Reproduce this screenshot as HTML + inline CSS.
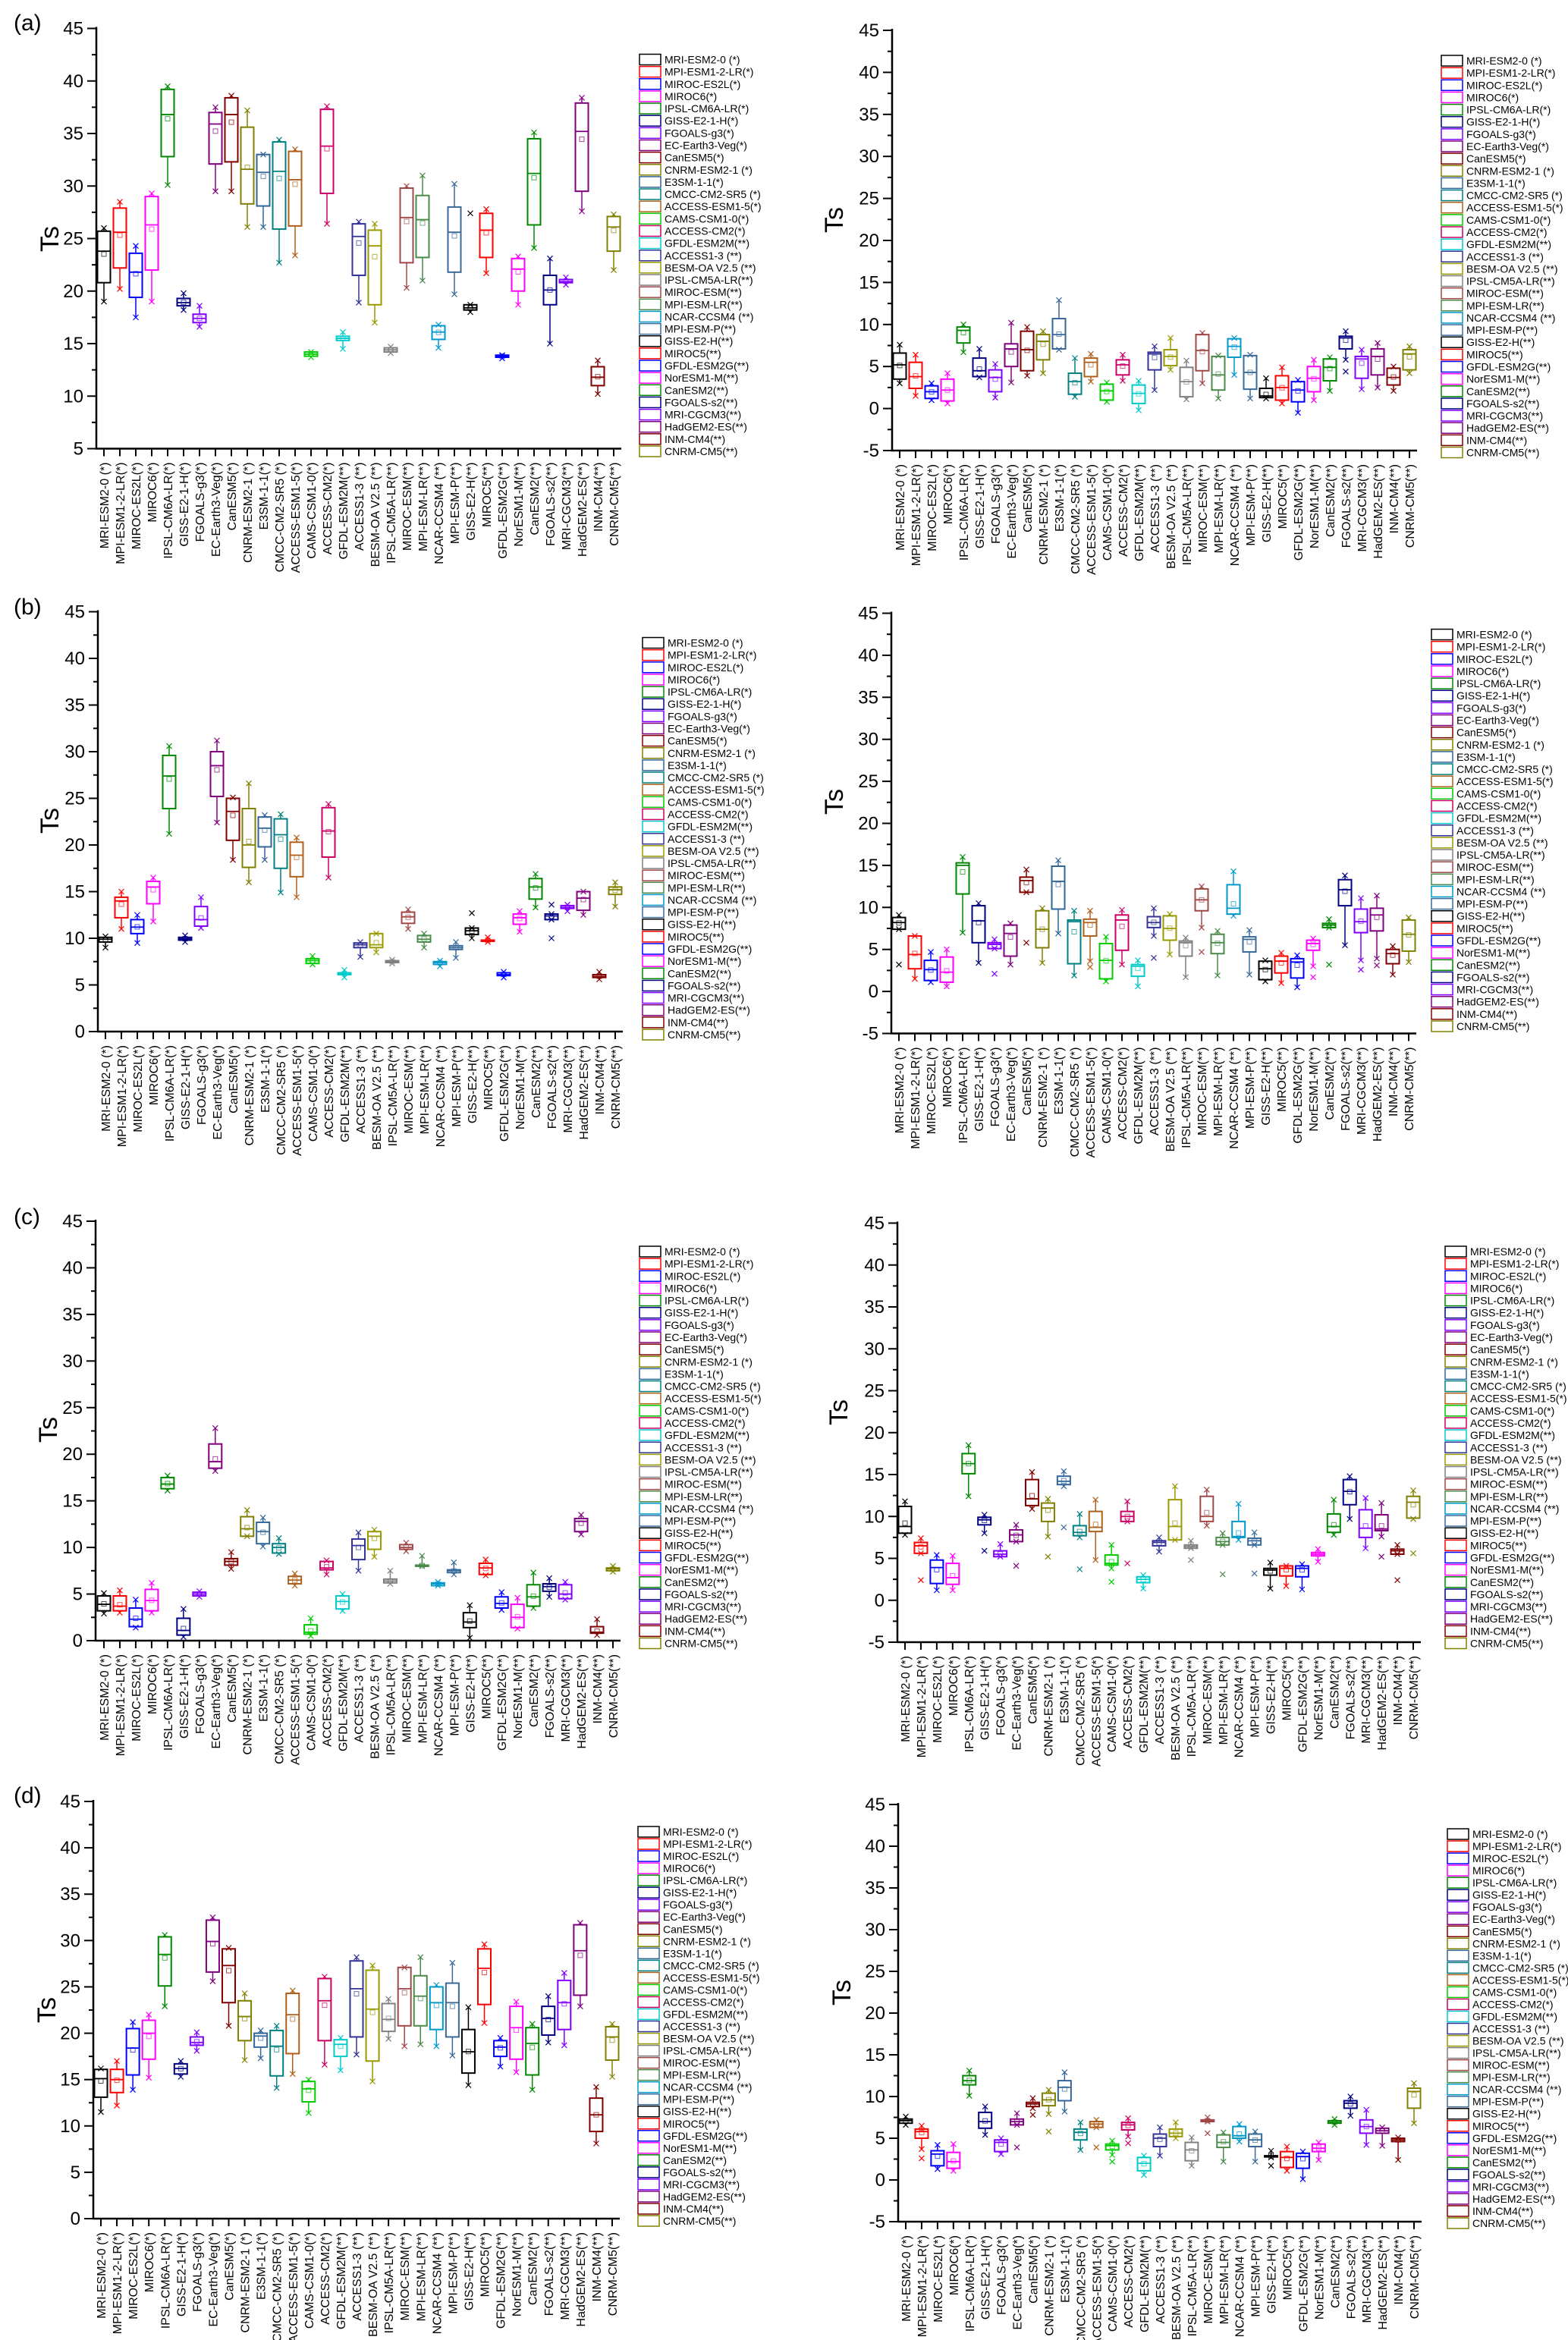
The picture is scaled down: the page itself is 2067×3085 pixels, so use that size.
<!DOCTYPE html>
<html><head><meta charset="utf-8">
<style>body{margin:0;background:#fff}svg{display:block}text{font-family:"Liberation Sans",Arial,sans-serif}</style>
</head><body>
<svg id="s" xmlns="http://www.w3.org/2000/svg" width="2067" height="3085" viewBox="0 0 2067 3085"></svg>
<script>
const names=["MRI-ESM2-0 (*)","MPI-ESM1-2-LR(*)","MIROC-ES2L(*)","MIROC6(*)","IPSL-CM6A-LR(*)","GISS-E2-1-H(*)","FGOALS-g3(*)","EC-Earth3-Veg(*)","CanESM5(*)","CNRM-ESM2-1 (*)","E3SM-1-1(*)","CMCC-CM2-SR5 (*)","ACCESS-ESM1-5(*)","CAMS-CSM1-0(*)","ACCESS-CM2(*)","GFDL-ESM2M(**)","ACCESS1-3 (**)","BESM-OA V2.5 (**)","IPSL-CM5A-LR(**)","MIROC-ESM(**)","MPI-ESM-LR(**)","NCAR-CCSM4 (**)","MPI-ESM-P(**)","GISS-E2-H(**)","MIROC5(**)","GFDL-ESM2G(**)","NorESM1-M(**)","CanESM2(**)","FGOALS-s2(**)","MRI-CGCM3(**)","HadGEM2-ES(**)","INM-CM4(**)","CNRM-CM5(**)"];
const cols=["#000","#f00","#00f","#f0f","#080","#000080","#8000ff","#800080","#800000","#808000","#336699","#008080","#b0601a","#00cc00","#cc0066","#00cccc","#333399","#999900","#808080","#a04848","#4a8a4a","#0099cc","#3a6a9a","#000","#f00","#00f","#f0f","#080","#000080","#8000ff","#800080","#800000","#808000"];
const D={
AL:`20.8 23.8 25.7 19 26;22.2 25.6 27.9 20.2 28.5;19.4 21.8 23.6 17.5 24.3;22 26.3 29 19 29.3;32.8 36.8 39.2 30.1 39.5;18.6 18.9 19.3 18.2 19.8;17 17.4 17.8 16.6 18.6;32.1 35.9 37 29.5 37.5;32.3 36.8 38.4 29.5 38.6;28.3 31.6 35.6 26.1 37.2;28.1 31.3 33 26.1 33;25.9 31.4 34.2 22.7 34.4;26.2 30.6 33.3 23.4 33.5;13.8 14 14.2 13.7 14.2;29.3 33.8 37.3 26.4 37.6;15.3 15.5 15.7 14.5 16.1;21.5 25.2 26.4 18.9 26.6;18.7 24.3 25.8 17 26.4;14.2 14.4 14.6 14.1 14.7;22.7 27 29.8 20.3 30;23.2 26.8 29.1 21 31;15.4 16.1 16.7 14.6 16.8;21.8 25.6 28 19.7 30.2;18.2 18.4 18.7 18 18.7 27.4;23.2 25.8 27.4 21.7 27.8;13.7 13.8 13.9 13.6 13.9;20 22.1 23.1 18.7 23.3;26.3 31.2 34.5 24.1 35.1;18.7 20.1 21.5 15 23.1;20.8 20.9 21.1 20.6 21.3;29.5 35.2 37.9 27.6 38.4;11 11.8 12.8 10.2 13.4;23.8 26.1 27.1 22 27.3`,
AR:`3.5 5.2 6.6 3 7.6;2.4 3.8 5.5 1.5 6.4;1.2 2 2.7 1 3;0.9 2.2 3.5 0.6 4.2;7.8 9.3 9.7 6.7 10;3.8 4.5 6 3.7 7.1;2 3.7 4.6 1.3 5.3;5 7.1 7.7 3.1 10.2;4.5 7 9.2 3.9 9.7;5.8 8 8.8 4.2 9.2;7.1 8.8 10.7 7 12.9;1.7 3.2 4.2 1.4 6;3.8 5.5 6 3.2 6.5;1 2.1 2.9 0.8 3.1;4 5.2 5.8 3.3 6.4;0.6 1.8 2.8 -0.2 3.3;4.6 6.5 6.7 2.2 7.4;5.1 6.2 7 4.6 8.4;1.4 3.2 4.9 1.1 5.7;4.5 6.9 8.8 3 9;2.2 4 6.2 1.2 6.3;6.1 7.4 8.3 4 8.4;2.3 4.3 6.3 1.2 6.4;1.3 1.5 2.4 1.2 3.6;1 2.5 3.9 0.6 4.9;0.8 2.2 3.2 -0.5 3.4;2 3.6 5 1 5.8;3.3 4.9 5.9 2.1 6.1;7.1 8.4 8.6 5.8 9.2 4.4;3.6 5.9 6.2 2.3 7;4 6.2 7.1 2.5 7.8;2.8 3.7 4.8 2.1 5;4.6 6.5 7 4.2 7.4`,
BL:`9.6 9.9 10.1 9 10.2;12.2 14 14.4 11 15;10.5 11.2 12 9.5 12.5;13.7 15.5 16.1 11.8 16.5;23.9 27.4 29.6 21.2 30.6;9.8 9.95 10.1 9.6 10.3;11.3 12 13.4 11.1 14.4;25.2 28.5 30 22.4 31.2;20.5 23.6 25 18.4 25.1;17.6 20 23.9 16 26.6;19.8 21.8 23 18.4 23.2;17.5 21.1 22.8 14.9 23.3;16.6 18.9 20.3 14.4 20.8;7.3 7.6 7.8 7.2 8.1;18.7 21.5 24 16.5 24.4;6.1 6.2 6.3 5.8 6.6;9 9.3 9.5 8 9.6;9 9.3 10.5 8.5 10.5;7.4 7.5 7.6 7.3 7.7;11.6 12.3 12.8 11 13.1;9.6 9.9 10.3 9 10.5;7.2 7.4 7.5 7 7.6;8.8 9 9.2 7.9 9.6;10.4 10.8 11.1 10 11.1 12.7;9.8 9.8 9.8 9.6 10.1;6 6.1 6.3 5.8 6.4;11.5 12.2 12.6 10.7 12.9;14.2 15.5 16.4 13.3 16.9;12 12.4 12.6 12 12.6 13.6 10;13.2 13.3 13.5 12.9 13.6;13 14.3 15 12.5 15;5.8 5.9 6.1 5.6 6.4;14.7 15.2 15.5 13.4 16`,
BR:`7.4 8.2 8.8 7.4 9.1 3.2;2.7 4.4 6.6 1.5 6.6;1.3 2.6 3.7 1.1 4.7;1.1 2.3 4.1 0.6 5;11.6 15 15.3 7 16;5.8 8.4 10.2 3.4 10.5;5.1 5.6 5.8 5.1 6.2 2.1;4.2 6.9 7.9 3.2 8.1;11.8 13.2 13.6 11.8 14.5 5.8;5.2 7.4 9.6 3.4 9.9;9.8 13.1 14.9 6.9 15.6;3.3 8.3 8.5 1.9 9.6;6.6 8.2 8.6 3.6 9.6 2.9;1.5 3.7 5.7 1.2 6.5;4.9 8.5 9.1 3.2 9.7;1.8 3 3.2 0.6 3.7;7.6 8.2 8.9 6.6 9.9 4;6.1 7.5 9 4.4 9.2;4.2 5.8 6 1.7 6.4;9.6 10.9 12.2 7.6 12.5 4.7;4.5 5.8 6.8 1.9 7.2;9.2 9.9 12.7 9 14.3;4.7 6.2 6.5 2 7.3;1.4 2.7 3.6 1.2 3.7;2.2 3.6 4.2 1 4.6;1.6 3.5 3.9 0.5 4.3;4.9 5.7 6.1 3 6.3 1.7;7.6 7.9 8.1 7.6 8.6 3.2;10.2 12.1 13.3 5.5 13.8;7 8.3 9.8 3.7 11.1 2.6;7.2 9.1 9.9 3.9 11.4 3.1;3.3 4.5 5 2 5.4;4.8 6.8 8.5 3.5 8.8`,
CL:`3.2 3.9 4.8 2.9 5.1;3.2 3.7 4.8 3 5.4;1.5 2.3 3.5 1.4 4.4;3.2 4.3 5.5 3 6.2;16.3 16.8 17.5 16.1 17.7;0.6 1.1 2.4 0.4 3.4;4.8 5 5.2 4.7 5.3;18.5 19.2 21.1 18.2 22.8;8.1 8.5 8.8 7.7 9.5;11.2 12 13.3 11.2 14;10.4 11.7 12.7 10.1 13.2;9.4 10 10.4 9.3 11;6.1 6.5 6.9 5.9 7.2;0.7 0.9 1.7 0.5 2.4;7.6 7.8 8.5 7.1 8.6;3.4 4.2 4.8 3.2 5;8.7 10.2 10.9 7.5 11.6;9.8 11.2 11.7 9 11.9;6.2 6.4 6.6 6.1 7.5;9.8 10 10.3 9.6 10.5;8 8.05 8.1 8 9.1;5.9 6.1 6.2 5.9 6.3;7.3 7.5 7.6 7.1 8.4;1.4 2 3 0.3 3.8;7.1 7.8 8.3 7 8.7;3.5 4 4.7 3.3 5.2;1.4 2.5 3.9 1.3 4.6;3.7 4.7 6 3.5 7.3;5.3 5.8 6.1 4.7 6.7;4.5 5 6 4.4 6.3;11.7 12.8 13.1 11.4 13.5;0.8 0.9 1.5 0.6 2.3;7.5 7.7 7.8 7.4 8`,
CR:`8 8.8 11.2 7.8 11.8;5.6 6.5 6.9 5.6 7.4 2.4;2 3.9 4.8 1.2 5.4;1.9 2.7 4.4 1.2 5.3;15.1 16.3 17.5 12.4 18.5;9 9.6 9.9 8 10.2 5.9;5.2 5.5 5.9 5.2 6.7;7 7.8 8.4 7 9 4.1;11.3 12.1 14.4 10.9 15.3;9.4 11 11.6 7.6 12.1 5.2;13.8 14.2 14.8 13.6 15.4 8.7;7.7 8.1 8.9 7.5 10.3 3.7;8.2 8.7 10.6 4.8 12;4.2 4.4 5.4 3.8 6.6 2.2;9.4 10 10.6 9.4 11.8 4.4;2.1 2.5 2.8 1.4 3;6.5 6.9 7.1 5.8 7.5;7.2 8.8 12 7.2 13.6;6.2 6.4 6.6 6.2 7.1 4.8;9.4 10 12.4 8.9 13.2;6.6 7 7.5 6.6 8 3.1;7.5 7.6 9.4 7.2 11.5;6.6 7.1 7.4 6.6 8.1 3.2;3 3.6 3.8 1.4 4.5;2.9 3.8 4.1 1.7 4.1;2.8 3.8 4.1 1.3 4.3;5.3 5.5 5.7 4.6 6.1;8.1 8.8 10.3 7.8 12;11.4 13 14.4 9.7 14.8;7.5 8.6 10.8 6.2 12.2;8.3 8.5 10.2 7.6 11.6 5.2;5.5 5.9 6.1 5.5 6.6 2.4;9.8 11.7 12.4 9.7 13.1 5.6`,
DL:`13.1 15.1 16.1 11.5 16.2;13.6 15 16.1 12.2 17;15.5 18.4 20.5 13.9 21.2;17.2 20 21.4 15.2 22;25.1 28.5 30.4 22.9 30.6;15.6 16.2 16.7 15.3 17;18.7 19 19.6 18.1 20.1;26.6 29.9 32.2 25.6 32.5;23.3 27.3 29.1 20.8 29.2;19.2 21.8 23.5 17.1 24.3;18.5 19.7 20 17.3 20.3;15.4 18.6 20.3 14.1 20.8;17.8 22 24.3 15.6 24.6;12.6 14 14.8 11.4 15;19.2 23.5 25.9 16.6 26.1;17.5 18.8 19.3 16 19.5;19.6 24.8 27.8 17.7 28.2;17 22.6 26.8 14.8 27.3;20.2 21.5 23.2 19.4 23.7;20.8 24.8 27.1 18.6 27.1;20.8 24 26.2 18.8 28.2;20.4 23.3 25 18.6 25.2;19.6 23.3 25.4 17.6 27.6;15.7 18 20.4 14.4 22.8;23.1 27 29.1 21.1 29.6;17.5 18.5 19.2 16.4 19.5;17.2 20.6 22.9 15.8 23.4;15.5 18.9 20.6 13.9 21;19.8 21.6 22.9 19 24;20.4 23.3 25.7 18.7 26.5;24.1 28.9 31.7 22.9 31.9;9.4 11.2 13 8.1 14.2;17.1 19.6 20.7 15.3 21`,
DR:`6.8 7.1 7.3 6.6 7.6;5 5.8 6.1 3.7 6.5 2.6;1.7 3.1 3.5 1.3 4.2;1.4 2.2 3.3 1.1 4.3;11.4 11.9 12.5 10.1 13.1;6.2 7 8.1 5.4 8.8;3.4 4.5 4.8 3.1 5;6.6 7 7.3 6.6 8 3.9;8.8 9.1 9.3 8.6 9.8 7.8;8.9 9.6 10.4 7.9 10.8 5.8;9.5 11.1 11.9 8.2 12.9;4.8 5.7 6.1 3.6 6.9;6.3 6.7 7 6.3 7.2 3.9;3.6 4.1 4.3 3 4.7 2.2;6 6.6 6.9 5.2 7.4 4.4;1.1 2 2.7 0.6 2.9;4 5 5.5 2.9 6.3;5.2 5.6 6.1 5 6.9;2.3 3.6 4.5 1.7 5.1;7 7.1 7.2 7 7.5 5.6;3.9 4.5 5.4 2.2 5.7;5 5.3 6.4 4.6 6.7;4 4.8 5.5 2.2 5.8;2.8 2.85 2.9 2.7 3.5 1.7;1.5 2.7 3.4 1.1 4;1.4 2.8 3.2 0.1 3.4;3.4 3.8 4.3 2.4 4.5;6.8 6.9 7.1 6.6 7.3;8.6 9.2 9.5 7.7 10;5.6 6.4 7.2 4.2 8.4;5.6 5.9 6.2 4.1 6.3;4.6 4.8 5 2.4 5.1;8.6 10.6 11 6.8 11.6`};
const P=[
{k:"AL",ax:127,yt:37.5,yb:591.5,vmin:5,vmax:45,b0:137,b1:809,ae:819,lx:843,l0:78.5,l1:595,tsx:66,tsy:315,lab:"(a)",laby:40},
{k:"AR",ax:1176,yt:40,yb:594,vmin:-5,vmax:45,b0:1186,b1:1858,ae:1868,lx:1900,l0:80,l1:596.5,tsx:1100,tsy:290},
{k:"BL",ax:129,yt:806.5,yb:1360,vmin:0,vmax:45,b0:139,b1:811,ae:821,lx:847,l0:847.5,l1:1364,tsx:66,tsy:1082,lab:"(b)",laby:810},
{k:"BR",ax:1175,yt:808.5,yb:1362.5,vmin:-5,vmax:45,b0:1185,b1:1857,ae:1867,lx:1887,l0:836.5,l1:1353,tsx:1100,tsy:1057},
{k:"CL",ax:126,yt:1610,yb:2163,vmin:0,vmax:45,b0:137,b1:808,ae:818,lx:843,l0:1650,l1:2166.5,tsx:64,tsy:1885,lab:"(c)",laby:1614},
{k:"CR",ax:1183,yt:1612.5,yb:2165,vmin:-5,vmax:45,b0:1193,b1:1863,ae:1873,lx:1905,l0:1650,l1:2166.5,tsx:1106,tsy:1862},
{k:"DL",ax:123,yt:2375,yb:2925,vmin:0,vmax:45,b0:133,b1:807,ae:817,lx:841,l0:2415,l1:2928,tsx:62,tsy:2650,lab:"(d)",laby:2377},
{k:"DR",ax:1184,yt:2379,yb:2929,vmin:-5,vmax:45,b0:1194,b1:1864,ae:1874,lx:1908,l0:2418,l1:2931,tsx:1110,tsy:2627}];
let o="";
function X(x,y,c){const r=3.5;return `<path d="M${x-r} ${y-r}L${x+r} ${y+r}M${x-r} ${y+r}L${x+r} ${y-r}" stroke="${c}" stroke-width="1.2"/>`;}
for(const p of P){
 const Y=v=>p.yb-(v-p.vmin)/(p.vmax-p.vmin)*(p.yb-p.yt);
 o+=`<path d="M${p.ax} ${p.yt-2}V${p.yb}H${p.ae}" fill="none" stroke="#000" stroke-width="2.5"/>`;
 for(let v=p.vmin;v<=p.vmax;v+=5){const y=Y(v);o+=`<line x1="${p.ax-12}" y1="${y}" x2="${p.ax}" y2="${y}" stroke="#000" stroke-width="2"/><text x="${p.ax-17}" y="${y+8}" font-size="24" text-anchor="end">${v}</text>`;
  if(v<p.vmax){const y2=Y(v+2.5);o+=`<line x1="${p.ax-6}" y1="${y2}" x2="${p.ax}" y2="${y2}" stroke="#000" stroke-width="2"/>`;}}
 o+=`<text transform="translate(${p.tsx+11},${p.tsy}) rotate(-90)" font-size="34" text-anchor="middle">Ts</text>`;
 if(p.lab)o+=`<text x="18" y="${p.laby}" font-size="30" font-family="Liberation Serif,serif">${p.lab}</text>`;
 const rows=D[p.k].split(";");const sp=(p.b1-p.b0)/32,ls=(p.l1-p.l0)/32;
 rows.forEach((r,i)=>{const a=r.trim().split(" ").map(Number);const x=p.b0+i*sp,c=cols[i],w=8.5;
  const [q1,md,q3,lo,hi]=a;const mean=(q1+q3+2*md)/4;
  o+=`<line x1="${x}" y1="${Y(hi)}" x2="${x}" y2="${Y(lo)}" stroke="${c}" stroke-width="1.5"/>`;
  o+=`<rect x="${x-w}" y="${Y(q3)}" width="${2*w}" height="${Math.max(1.5,Y(q1)-Y(q3))}" fill="#fff" stroke="${c}" stroke-width="2"/>`;
  o+=`<line x1="${x-w}" y1="${Y(md)}" x2="${x+w}" y2="${Y(md)}" stroke="${c}" stroke-width="1.8"/>`;
  o+=`<rect x="${x-3}" y="${Y(mean)-3}" width="6" height="6" fill="none" stroke="${c}" stroke-width="1" opacity=".7"/>`;
  o+=X(x,Y(lo),c)+X(x,Y(hi),c);for(let j=5;j<a.length;j++)o+=X(x,Y(a[j]),c);
  o+=`<line x1="${x}" y1="${p.yb}" x2="${x}" y2="${p.yb+10}" stroke="#000" stroke-width="2"/>`;
  o+=`<text transform="translate(${x+6},${p.yb+18}) rotate(-90)" font-size="16" text-anchor="end">${names[i]}</text>`;
  const ly=p.l0+i*ls;o+=`<rect x="${p.lx}" y="${ly-7}" width="28" height="14" fill="#fff" stroke="${c}" stroke-width="1.5"/><text x="${p.lx+33}" y="${ly+5}" font-size="14">${names[i]}</text>`;
 });
}
document.getElementById("s").innerHTML=o;
</script>
</body></html>
